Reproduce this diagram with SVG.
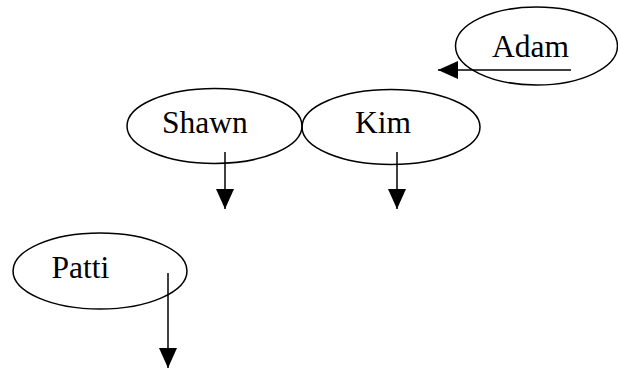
<svg xmlns="http://www.w3.org/2000/svg" width="618" height="368" viewBox="0 0 618 368">
<style>
.node ellipse{fill:none;stroke:#000;stroke-width:1.5}
.node text{font-family:"Liberation Serif","Times New Roman",serif;font-size:31.5px;fill:#000}
.edges line{stroke:#000;stroke-width:1.5}
</style>
<defs>
<marker id="ah" markerWidth="20" markerHeight="18" refX="20" refY="9" orient="auto" markerUnits="userSpaceOnUse">
<path d="M0,0 L20,9 L0,18 Z" fill="#000"/>
</marker>
</defs>
<rect width="618" height="368" fill="#fff"/>
<g id="adam" class="node">
<ellipse cx="536.5" cy="46" rx="81" ry="39"/>
<text x="492" y="56.5">Adam</text>
</g>
<g id="shawn" class="node">
<ellipse cx="214.5" cy="126" rx="87.5" ry="37.5"/>
<text x="162" y="132.5">Shawn</text>
</g>
<g id="kim" class="node">
<ellipse cx="391" cy="127" rx="89" ry="37.5"/>
<text x="355" y="132.5">Kim</text>
</g>
<g id="patti" class="node">
<ellipse cx="100" cy="271" rx="87" ry="38"/>
<text x="51.5" y="278">Patti</text>
</g>
<g id="edges" class="edges">
<line x1="571" y1="70" x2="438" y2="70" marker-end="url(#ah)"/>
<line x1="225" y1="152" x2="225" y2="209" marker-end="url(#ah)"/>
<line x1="397" y1="152" x2="397" y2="209" marker-end="url(#ah)"/>
<line x1="168" y1="273" x2="168" y2="368" marker-end="url(#ah)"/>
</g>
</svg>
